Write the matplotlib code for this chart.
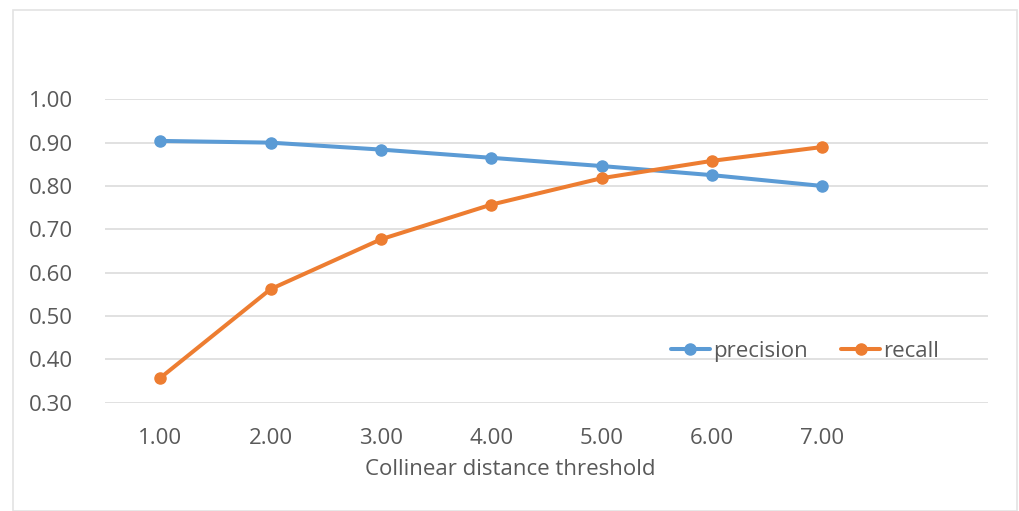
import matplotlib
matplotlib.use('Agg')
import matplotlib.pyplot as plt
from matplotlib.patches import Rectangle

# Data
thresholds = ['1.00', '2.00', '3.00', '4.00', '5.00', '6.00', '7.00']
precision = [0.904, 0.900, 0.884, 0.865, 0.846, 0.825, 0.800]
recall = [0.357, 0.562, 0.677, 0.757, 0.818, 0.858, 0.890]
y_ticks = [0.30, 0.40, 0.50, 0.60, 0.70, 0.80, 0.90, 1.00]

W, H = 1019, 511
plt.rcParams['font.family'] = ['Open Sans', 'DejaVu Sans']
text_color = '#595959'
fs = 16

fig = plt.figure(figsize=(W / 100, H / 100), dpi=100)
fig.patch.set_facecolor('white')

# light chart-area border
fig.patches.append(Rectangle((13 / W, 0), (1017 - 13) / W, 1 - 10 / H,
                             transform=fig.transFigure, fill=False,
                             edgecolor='#e3e3e3', linewidth=1.2))

ax = fig.add_axes([105 / W, 1 - 402.7 / H, (988 - 105) / W, (402.7 - 99.3) / H])

x = list(range(1, len(thresholds) + 1))
ax.plot(x, precision, color='#5B9BD5', linewidth=2.9, marker='o', markersize=8,
        label='precision', solid_capstyle='round')
ax.plot(x, recall, color='#ED7D31', linewidth=2.9, marker='o', markersize=8,
        label='recall', solid_capstyle='round')

ax.set_xlim(0.5, 8.5)
ax.set_ylim(0.30, 1.00)
ax.set_xticks(x)
ax.set_xticklabels(thresholds)
ax.set_yticks(y_ticks)
ax.set_yticklabels([f'{v:.2f}' for v in y_ticks])

for s in ax.spines.values():
    s.set_visible(False)
ax.grid(axis='y', color='#d9d9d9', linewidth=1.1)
ax.set_axisbelow(True)
ax.tick_params(axis='both', length=0, labelsize=fs, labelcolor=text_color)
ax.tick_params(axis='y', pad=23)
ax.tick_params(axis='x', pad=18)

fig.text(510 / W, 1 - 469 / H, 'Collinear distance threshold', ha='center', va='center',
         fontsize=fs, color=text_color)

leg = fig.legend(loc='center', bbox_to_anchor=(805 / W, 1 - 351 / H), ncol=2,
                 frameon=False, fontsize=fs, handlelength=1.75, handletextpad=0.15,
                 columnspacing=1.5, labelcolor=text_color, borderaxespad=0)

fig.savefig('out.png', dpi=100)
